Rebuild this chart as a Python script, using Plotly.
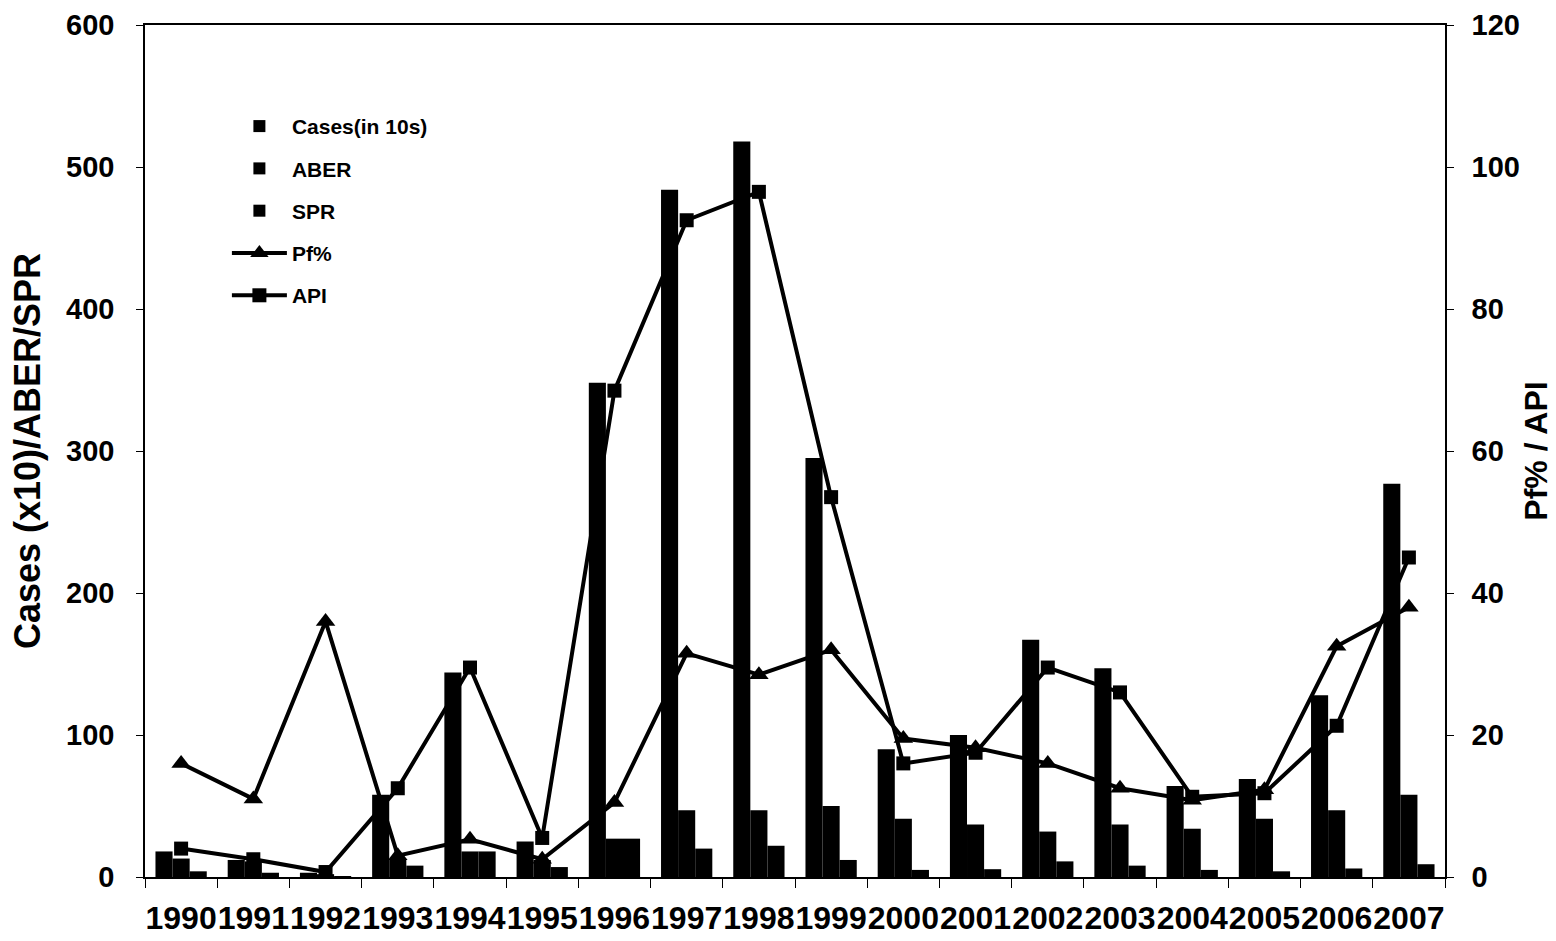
import plotly.graph_objects as go

# Malaria surveillance indicators, 1990-2007
years = ["1990", "1991", "1992", "1993", "1994", "1995", "1996", "1997", "1998",
         "1999", "2000", "2001", "2002", "2003", "2004", "2005", "2006", "2007"]

# left axis series
cases_in_10s = [18, 12, 3, 58, 144, 25, 348, 484, 518, 295, 90, 100, 167, 147, 64, 69, 128, 277]
aber = [13, 11, 2, 12, 18, 12, 27, 47, 47, 50, 41, 37, 32, 37, 34, 41, 47, 58]
spr = [4, 3, 0.5, 8, 18, 7, 27, 20, 22, 12, 5, 5.5, 11, 8, 5, 4, 6, 9]

# right axis series
pf_pct = [16, 11, 36, 3, 5.3, 2.5, 10.5, 31.5, 28.5, 32, 19.5, 18.2, 16, 12.5, 10.8, 12.3, 32.5, 38]
api = [4, 2.5, 0.7, 12.5, 29.5, 5.5, 68.5, 92.5, 96.5, 53.5, 16, 17.5, 29.5, 26, 11.3, 11.8, 21.3, 45]

FONT = "Liberation Sans, Arial, sans-serif"
BLACK = "#000000"

fig = go.Figure()

for i, (name, vals) in enumerate([("Cases(in 10s)", cases_in_10s), ("ABER", aber), ("SPR", spr)]):
    fig.add_trace(go.Bar(
        x=years, y=vals, name=name, legendgroup=f"g{i}",
        marker=dict(color=BLACK, line=dict(width=0)),
        yaxis="y",
    ))

fig.add_trace(go.Scatter(
    x=years, y=pf_pct, name="Pf%", legendgroup="g3", mode="lines+markers",
    line=dict(color=BLACK, width=4),
    marker=dict(symbol="triangle-up", size=17, color=BLACK),
    yaxis="y2",
))
fig.add_trace(go.Scatter(
    x=years, y=api, name="API", legendgroup="g4", mode="lines+markers",
    line=dict(color=BLACK, width=4),
    marker=dict(symbol="square", size=14, color=BLACK),
    yaxis="y2",
))

fig.update_layout(
    width=1556, height=941,
    margin=dict(l=145, r=111, t=25, b=64, autoexpand=False),
    paper_bgcolor="white", plot_bgcolor="white",
    barmode="group", bargap=0.29, bargroupgap=0,
    font=dict(family=FONT, color=BLACK, weight="bold"),
    showlegend=True,
    legend=dict(
        x=0.063, y=0.905, xanchor="left", yanchor="top",
        bgcolor="rgba(0,0,0,0)", borderwidth=0,
        font=dict(size=21, family=FONT, weight="bold", color=BLACK),
        tracegroupgap=12, itemwidth=55, traceorder="grouped",
    ),
    xaxis=dict(
        type="category", tickson="boundaries", range=[-0.5, 17.5],
        showline=True, linecolor=BLACK, linewidth=1.5, mirror=True,
        ticks="outside", ticklen=9, tickcolor=BLACK, tickwidth=1,
        tickangle=0, ticklabelstandoff=12,
        tickfont=dict(size=32, family=FONT, weight="bold"),
        showgrid=False, zeroline=False,
    ),
    yaxis=dict(
        range=[0, 600], dtick=100,
        showline=True, linecolor=BLACK, linewidth=1.5,
        ticks="outside", ticklen=7, tickcolor=BLACK, tickwidth=1,
        ticklabelstandoff=16,
        tickfont=dict(size=29, family=FONT, weight="bold"),
        showgrid=False, zeroline=False,
        title=dict(text="Cases (x10)/ABER/SPR", standoff=14,
                   font=dict(size=36, family=FONT, weight="bold")),
    ),
    yaxis2=dict(
        range=[0, 120], dtick=20, overlaying="y", side="right",
        showline=True, linecolor=BLACK, linewidth=1.5,
        ticks="outside", ticklen=7, tickcolor=BLACK, tickwidth=1,
        ticklabelstandoff=12,
        tickfont=dict(size=29, family=FONT, weight="bold"),
        showgrid=False, zeroline=False,
        title=dict(text="Pf% / API", standoff=6,
                   font=dict(size=32, family=FONT, weight="bold")),
    ),
)

fig.write_html("out.html")
